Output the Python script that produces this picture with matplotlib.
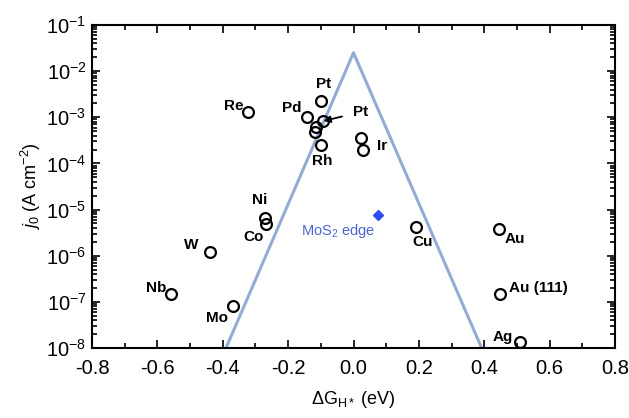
import matplotlib
matplotlib.use("Agg")
import matplotlib.pyplot as plt
from matplotlib.ticker import LogLocator, MultipleLocator, NullFormatter

plt.rcParams['font.family'] = ['Liberation Sans', 'DejaVu Sans']
plt.rcParams['mathtext.fontset'] = 'custom'
plt.rcParams['mathtext.rm'] = 'Liberation Sans'
plt.rcParams['mathtext.it'] = 'Liberation Sans:italic'

# Metal data: ΔG_H* (eV), j0 (A cm^-2)
metals = ["Re", "Pt", "Pd", "Pt2", "Pt3", "Pt4", "Rh", "Ir", "Ir2", "Ni", "Co",
          "W", "Nb", "Mo", "Cu", "Au", "Au (111)", "Ag"]
dG = [-0.323, -0.099, -0.143, -0.092, -0.115, -0.118, -0.099, 0.023, 0.030,
      -0.271, -0.268, -0.439, -0.558, -0.369, 0.190, 0.446, 0.448, 0.509]
j0 = [1.3e-3, 2.3e-3, 1.0e-3, 8.3e-4, 6.2e-4, 4.9e-4, 2.5e-4, 3.6e-4, 2.0e-4,
      6.5e-6, 4.8e-6, 1.2e-6, 1.5e-7, 8.0e-8, 4.2e-6, 3.7e-6, 1.5e-7, 1.35e-8]

# labels: (text, index of point, offset in pixels)
labels = [("Re", 0, (-14, 6)), ("Pt", 1, (2, 17)), ("Pd", 2, (-15, 9)),
          ("Rh", 6, (1, -16)), ("Ir", 7, (21, -8)), ("Ni", 9, (-5, 18)),
          ("Co", 10, (-12, -13)), ("W", 11, (-19, 7)), ("Nb", 12, (-15, 6)),
          ("Mo", 13, (-16, -12)), ("Cu", 14, (7, -15)), ("Au", 15, (16, -10)),
          ("Au (111)", 16, (38, 6)), ("Ag", 17, (-17, 5))]

mos2_dG = [0.076]
mos2_j0 = [7.6e-6]

# volcano line
volcano_x = [-0.39, 0.0, 0.392]
volcano_y = [1e-8, 2.5e-2, 1e-8]

fig = plt.figure(figsize=(6.29, 4.18), dpi=100)
ax = fig.add_axes([92/629, 1-348/418, (615-92)/629, (348-25)/418])

ax.plot(volcano_x, volcano_y, color="#93acd6", lw=2.2, zorder=2)
ax.plot(dG, j0, linestyle="none", marker="o", markersize=7.8,
        markerfacecolor="none", markeredgecolor="black", markeredgewidth=1.6, zorder=3)
ax.plot(mos2_dG, mos2_j0, linestyle="none", marker="D", markersize=5.5,
        color="#2d4ef5", zorder=3)

for text, i, off in labels:
    ax.annotate(text, (dG[i], j0[i]), xytext=off, textcoords="offset pixels",
                ha="center", va="center", fontsize=11, fontweight="bold")

ax.annotate("Pt", (dG[3], j0[3]), xytext=(37, 9), textcoords="offset pixels",
            ha="center", va="center", fontsize=11, fontweight="bold",
            arrowprops=dict(arrowstyle="-|>", color="black", lw=1.3,
                            shrinkA=6, shrinkB=0, mutation_scale=10))

ax.annotate("MoS$_2$ edge", (mos2_dG[0], mos2_j0[0]), xytext=(-40, -16),
            textcoords="offset pixels", ha="center", va="center",
            fontsize=10.5, color="#4a66d0")

ax.set_yscale("log")
ax.set_xlim(-0.8, 0.8)
ax.set_ylim(1e-8, 1e-1)
ax.xaxis.set_major_locator(MultipleLocator(0.2))
ax.xaxis.set_minor_locator(MultipleLocator(0.1))
ax.yaxis.set_major_locator(LogLocator(base=10, numticks=20))
ax.yaxis.set_minor_locator(LogLocator(base=10, subs=range(2, 10), numticks=20))
ax.yaxis.set_minor_formatter(NullFormatter())
ax.set_xticks([-0.8, -0.6, -0.4, -0.2, 0.0, 0.2, 0.4, 0.6, 0.8])
ax.set_xticklabels(["-0.8", "-0.6", "-0.4", "-0.2", "0.0", "0.2", "0.4", "0.6", "0.8"])

ax.tick_params(which="both", direction="in", top=True, right=True, width=1.2)
ax.tick_params(which="major", length=6, labelsize=14.5)
ax.tick_params(axis="x", which="major", pad=8)
ax.tick_params(axis="y", which="major", pad=4)
ax.tick_params(which="minor", length=3.5)
for s in ax.spines.values():
    s.set_linewidth(1.5)

ax.set_xlabel(r"ΔG$_{\mathrm{H*}}$ (eV)", fontsize=13, labelpad=8)
ax.set_ylabel(r"$j_0$ (A cm$^{-2}$)", fontsize=13, labelpad=2)

fig.savefig("out.png", dpi=100)
